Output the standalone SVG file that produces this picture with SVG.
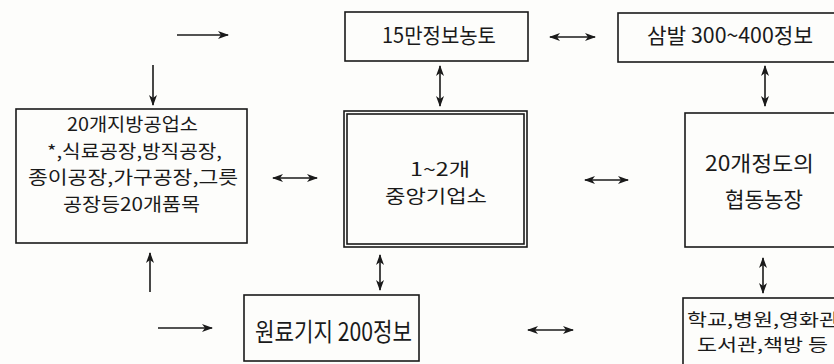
<svg xmlns="http://www.w3.org/2000/svg" width="834" height="364" viewBox="0 0 834 364">
<defs>
<style>
.box{fill:none;stroke:#1a1a1a;stroke-width:1.6}
.t{font-family:"Noto Sans CJK KR","Noto Sans",sans-serif;font-size:21px;fill:#1a1a1a;text-anchor:start}
.m{font-size:18px}
.s{font-size:17px}
.big{font-size:25px}
.c{stroke:#1a1a1a;stroke-width:1.6;fill:none}
</style>
<marker id="ah" viewBox="0 0 11 8" refX="10" refY="4" markerWidth="11" markerHeight="8" markerUnits="userSpaceOnUse" orient="auto-start-reverse">
<path d="M0,0 L11,4 L0,8 L3,4 z" fill="#1a1a1a"/>
</marker>
</defs>
<rect width="834" height="364" fill="#fdfdfb"/>
<g id="connectors">
<line class="c" x1="177" y1="35" x2="228" y2="35" marker-end="url(#ah)"/>
<line class="c" x1="153" y1="65" x2="153" y2="105" marker-end="url(#ah)"/>
<line class="c" x1="550" y1="37" x2="595" y2="37" marker-start="url(#ah)" marker-end="url(#ah)"/>
<line class="c" x1="440" y1="66" x2="440" y2="106" marker-start="url(#ah)" marker-end="url(#ah)"/>
<line class="c" x1="765" y1="66" x2="765" y2="106" marker-start="url(#ah)" marker-end="url(#ah)"/>
<line class="c" x1="273" y1="178" x2="317" y2="178" marker-start="url(#ah)" marker-end="url(#ah)"/>
<line class="c" x1="585" y1="180" x2="628" y2="180" marker-start="url(#ah)" marker-end="url(#ah)"/>
<line class="c" x1="150" y1="292" x2="150" y2="253" marker-end="url(#ah)"/>
<line class="c" x1="380" y1="255" x2="380" y2="290" marker-start="url(#ah)" marker-end="url(#ah)"/>
<line class="c" x1="763" y1="258" x2="763" y2="293" marker-start="url(#ah)" marker-end="url(#ah)"/>
<line class="c" x1="158" y1="328" x2="212" y2="328" marker-end="url(#ah)"/>
<line class="c" x1="528" y1="330" x2="573" y2="330" marker-start="url(#ah)" marker-end="url(#ah)"/>
</g>
<g id="farmland">
<rect class="box" x="345" y="12" width="183" height="49"/>
<text class="t" x="382" y="43" textLength="114" lengthAdjust="spacingAndGlyphs">15만정보농토</text>
</g>
<g id="sambal">
<rect class="box" x="618" y="13" width="230" height="49"/>
<text class="t" x="647" y="43" textLength="166" lengthAdjust="spacingAndGlyphs">삼발 300~400정보</text>
</g>
<g id="local-factories">
<rect class="box" x="16" y="109" width="231" height="134"/>
<text class="t m" x="67" y="131" textLength="131" lengthAdjust="spacingAndGlyphs">20개지방공업소</text>
<text class="t m" x="47" y="157.5" textLength="175" lengthAdjust="spacingAndGlyphs">*,식료공장,방직공장,</text>
<text class="t m" x="28" y="184" textLength="210" lengthAdjust="spacingAndGlyphs">종이공장,가구공장,그릇</text>
<text class="t m" x="63" y="210.5" textLength="137" lengthAdjust="spacingAndGlyphs">공장등20개품목</text>
</g>
<g id="central-enterprise">
<rect class="box" x="344" y="111" width="183" height="136"/>
<rect class="box" x="347" y="114" width="177" height="130" stroke-width="1.2"/>
<text class="t m" x="410" y="176" textLength="60" lengthAdjust="spacingAndGlyphs">1~2개</text>
<text class="t m" x="385" y="203" textLength="102" lengthAdjust="spacingAndGlyphs">중앙기업소</text>
</g>
<g id="cooperative-farms">
<rect class="box" x="685" y="113" width="163" height="134"/>
<text class="t" x="705" y="171" textLength="109" lengthAdjust="spacingAndGlyphs">20개정도의</text>
<text class="t" x="725" y="207" textLength="78" lengthAdjust="spacingAndGlyphs">협동농장</text>
</g>
<g id="raw-material-base">
<rect class="box" x="244" y="295" width="175" height="66"/>
<text class="t big" x="255" y="341" textLength="157" lengthAdjust="spacingAndGlyphs">원료기지 200정보</text>
</g>
<g id="facilities">
<rect class="box" x="683" y="298" width="165" height="80"/>
<text class="t s" x="687" y="326" textLength="152" lengthAdjust="spacingAndGlyphs">학교,병원,영화관</text>
<text class="t s" x="697" y="350.5" textLength="131" lengthAdjust="spacingAndGlyphs">도서관,책방 등</text>
</g>
</svg>
